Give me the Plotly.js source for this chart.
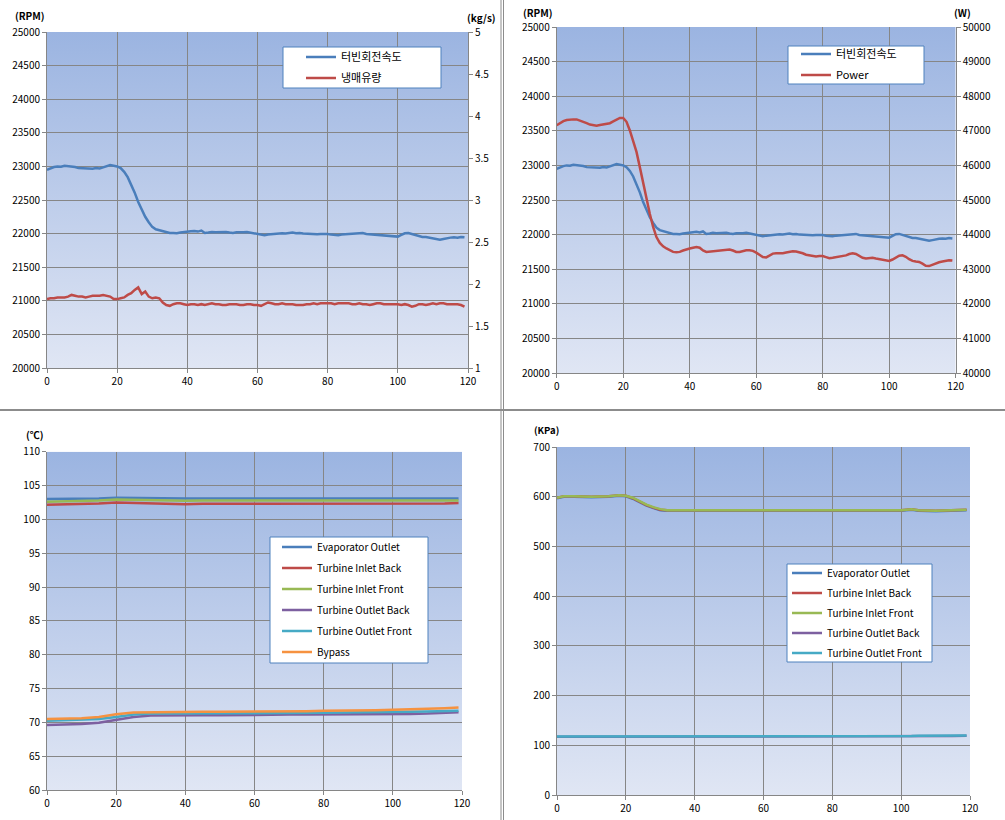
<!DOCTYPE html>
<html><head><meta charset="utf-8">
<script src="https://cdn.plot.ly/plotly-3.0.1.min.js"></script>
<style>html,body{margin:0;padding:0;background:#fff}#chart{width:1005px;height:820px}</style>
</head><body><div id="chart"></div>
<script>
// ---------------- DATA ----------------
const timeSec = [0,1,2,3,4,5,6,7,8,9,10,11,12,13,14,15,16,17,18,19,20,21,22,23,24,25,26,27,28,29,
 30,31,32,33,34,35,36,37,38,39,40,41,42,43,44,45,46,47,48,49,50,51,52,53,54,55,56,57,58,59,
 60,61,62,63,64,65,66,67,68,69,70,71,72,73,74,75,76,77,78,79,80,81,82,83,84,85,86,87,88,89,
 90,91,92,93,94,95,96,97,98,99,100,101,102,103,104,105,106,107,108,109,110,111,112,113,114,115,116,117,118,119];

const turbineRpm = [22950,22975,22990,23000,22995,23010,23005,23000,22990,22975,
 22970,22975,22970,22965,22975,22970,22985,23000,23020,23010,
 23000,22975,22920,22840,22730,22610,22470,22350,22250,22170,
 22100,22065,22050,22030,22015,22010,22010,22005,22015,22025,
 22030,22035,22040,22030,22045,22010,22015,22025,22020,22025,
 22030,22025,22015,22010,22020,22015,22020,22025,22015,22010,
 22005,21985,21975,21985,21990,22000,21995,22005,22000,22010,
 22015,22005,22010,22000,21995,21990,21985,21990,21995,22000,
 21995,21985,21980,21975,21985,21990,21985,21990,22000,22005,
 22010,21995,21990,21985,21975,21980,21970,21960,21955,21960,
 21955,21980,22005,22010,21995,21980,21965,21950,21950,21940,
 21925,21915,21910,21920,21935,21940,21945,21940,21950,21945];

const refrigerantFlow = [1.82,1.83,1.83,1.84,1.84,1.84,1.85,1.87,1.86,1.85,
 1.85,1.84,1.85,1.86,1.86,1.86,1.87,1.86,1.85,1.82,
 1.82,1.83,1.84,1.87,1.89,1.93,1.96,1.88,1.91,1.85,
 1.83,1.84,1.83,1.78,1.75,1.74,1.76,1.77,1.77,1.76,
 1.75,1.76,1.76,1.75,1.76,1.75,1.76,1.77,1.76,1.76,
 1.75,1.75,1.76,1.76,1.76,1.75,1.75,1.76,1.76,1.75,
 1.75,1.74,1.76,1.78,1.77,1.76,1.76,1.77,1.76,1.76,
 1.76,1.75,1.75,1.75,1.76,1.76,1.77,1.76,1.77,1.77,
 1.77,1.77,1.76,1.77,1.77,1.77,1.77,1.76,1.76,1.77,
 1.76,1.76,1.75,1.76,1.77,1.77,1.76,1.76,1.76,1.76,
 1.76,1.75,1.76,1.75,1.73,1.74,1.76,1.76,1.75,1.76,
 1.77,1.76,1.77,1.77,1.76,1.76,1.76,1.76,1.75,1.73];

const powerW = [47160,47220,47280,47310,47330,47330,47330,47300,47260,47220,
 47180,47160,47150,47170,47190,47200,47220,47270,47330,47370,
 47370,47260,47010,46720,46390,45950,45470,44990,44600,44220,
 43930,43760,43660,43600,43540,43500,43490,43500,43540,43580,
 43600,43620,43640,43620,43540,43500,43510,43520,43530,43550,
 43560,43560,43570,43540,43500,43500,43530,43550,43550,43530,
 43480,43420,43350,43340,43400,43450,43460,43450,43460,43480,
 43510,43520,43510,43490,43460,43420,43400,43380,43370,43380,
 43380,43350,43320,43330,43350,43360,43370,43400,43440,43460,
 43440,43390,43330,43310,43330,43330,43310,43290,43260,43240,
 43240,43280,43340,43390,43400,43360,43290,43240,43220,43210,
 43160,43100,43090,43130,43170,43200,43220,43240,43260,43250];

const tempTime = [0,5,10,15,20,25,30,35,40,45,50,55,60,65,70,75,80,85,90,95,100,105,110,115,119];
const evapOutletT  = [103.0,103.0,103.05,103.1,103.2,103.15,103.1,103.1,103.1,103.1,103.1,103.1,103.1,103.1,103.1,103.1,103.1,103.1,103.1,103.1,103.1,103.1,103.1,103.1,103.1];
const inletBackT   = [102.15,102.2,102.25,102.35,102.5,102.45,102.3,102.25,102.25,102.3,102.3,102.3,102.3,102.3,102.3,102.3,102.3,102.25,102.3,102.3,102.3,102.3,102.35,102.35,102.4];
const inletFrontT  = [102.6,102.65,102.7,102.8,102.95,102.9,102.8,102.75,102.75,102.8,102.8,102.8,102.8,102.8,102.8,102.8,102.8,102.8,102.8,102.8,102.8,102.8,102.8,102.8,102.8];
const outletBackT  = [69.6,69.65,69.75,69.95,70.35,70.8,71.0,71.05,71.05,71.05,71.05,71.1,71.1,71.15,71.15,71.15,71.15,71.2,71.2,71.2,71.2,71.25,71.3,71.4,71.5];
const outletFrontT = [70.25,70.3,70.35,70.5,70.8,71.15,71.3,71.3,71.3,71.3,71.3,71.3,71.35,71.35,71.35,71.4,71.4,71.45,71.45,71.5,71.5,71.55,71.6,71.65,71.7];
const bypassT      = [70.5,70.55,70.6,70.8,71.2,71.45,71.5,71.5,71.5,71.55,71.55,71.55,71.6,71.6,71.6,71.65,71.7,71.7,71.75,71.8,71.85,71.9,72.0,72.1,72.2];

const pressTime = [0,2,5,10,15,18,20,22,24,26,28,30,32,35,40,45,50,55,60,65,70,75,80,85,90,95,100,103,105,110,115,119];
const evapOutletP  = [597,600,600,599,600,602,601,596,589,582,577,573,572,572,572,573,573,573,572,573,573,572,572,573,573,572,572,574,572,571,572,573];
const inletBackP   = [598,601,601,600,601,603,602,597,590,583,578,574,573,573,573,574,574,574,573,574,574,573,573,574,574,573,573,575,573,572,573,574];
const inletFrontP  = [598,601,601,600,601,603,602,598,591,584,579,575,573,573,573,574,574,574,573,574,574,573,573,574,574,573,573,575,573,572,573,574];
const outletBackP  = [117,117,117,117,117,117,117,117,117,117,117,117,117,117,117,117,117,117,117.5,117.5,117.5,117.5,118,118,118,118,118,118,118.5,118.5,118.5,119];
const outletFrontP = [117.5,117.5,117.5,117.5,117.5,117.5,117.5,117.5,117.5,117.5,117.5,117,117,117,117.5,117.5,117.5,117.5,118,118,118,118,118.5,118.5,118.5,118.5,118.5,118.5,119,119,119,119.5];

const namesTop1 = ['터빈회전속도', '냉매유량'];
const namesTop2 = ['터빈회전속도', 'Power'];
const namesTemp = ['Evaporator Outlet','Turbine Inlet Back','Turbine Inlet Front','Turbine Outlet Back','Turbine Outlet Front','Bypass'];
const namesPress = ['Evaporator Outlet','Turbine Inlet Back','Turbine Inlet Front','Turbine Outlet Back','Turbine Outlet Front'];
const unitLabels = ['(RPM)','(kg/s)','(RPM)','(W)','(℃)','(KPa)'];

// ---------------- STYLE ----------------
const W = 1005, H = 820;
const px = v => v / W, py = v => 1 - v / H;
const C = {blue:'#4a7ebb', red:'#be4b48', green:'#98b954', purple:'#7d60a0', aqua:'#46aac5', orange:'#f69240'};
const gridC = '#868686';
const FONT = '"Noto Sans CJK KR", "Noto Sans", sans-serif';
const tf = {family: FONT, size: 10, color: '#000'};

function xa(l, r, anchor) {
  return {domain:[px(l), px(r)], range:[0,120], tick0:0, dtick:20, anchor:anchor,
    showgrid:true, gridcolor:gridC, gridwidth:1, showline:true, linecolor:gridC, linewidth:1,
    ticks:'outside', ticklen:4, tickcolor:gridC, zeroline:false, tickfont:tf, fixedrange:true};
}
function ya(t, b, range, dtick, anchor, side, overlay, fmt) {
  const o = {range:range, tick0:range[0], dtick:dtick, anchor:anchor, side:side,
    showline:true, linecolor:gridC, linewidth:1, ticks:'outside', ticklen:4, tickcolor:gridC,
    zeroline:false, tickfont:tf, exponentformat:'none', fixedrange:true};
  if (fmt) o.tickformat = fmt;
  if (overlay) { o.overlaying = overlay; o.showgrid = false; }
  else { o.domain = [py(b), py(t)]; o.showgrid = true; o.gridcolor = gridC; o.gridwidth = 1; }
  return o;
}

const gradSvg = '<svg xmlns="http://www.w3.org/2000/svg" width="100" height="100" preserveAspectRatio="none">' +
  '<defs><linearGradient id="g" x1="0" y1="0" x2="0" y2="1"><stop offset="0" stop-color="#9bb4e1"/>' +
  '<stop offset="1" stop-color="#e0e6f4"/></linearGradient></defs><rect width="100" height="100" fill="url(#g)"/></svg>';
const gradSrc = 'data:image/svg+xml;utf8,' + encodeURIComponent(gradSvg);
function bgImg(xr, yr) {
  return {source:gradSrc, xref:xr + ' domain', yref:yr + ' domain', x:0, y:1, sizex:1, sizey:1,
    xanchor:'left', yanchor:'top', sizing:'stretch', layer:'below'};
}
function line(x, y, xaxis, yaxis, name, color, legend, group) {
  return {type:'scatter', mode:'lines', x:x, y:y, xaxis:xaxis, yaxis:yaxis, name:name,
    line:{color:color, width:2.5}, legend:legend, legendgroup:group, hoverinfo:'skip'};
}

const traces = [
  line(timeSec, turbineRpm, 'x', 'y', namesTop1[0], C.blue, 'legend', 'a1'),
  line(timeSec, refrigerantFlow, 'x', 'y2', namesTop1[1], C.red, 'legend', 'a2'),
  line(timeSec, turbineRpm, 'x2', 'y3', namesTop2[0], C.blue, 'legend2', 'b1'),
  line(timeSec, powerW, 'x2', 'y4', namesTop2[1], C.red, 'legend2', 'b2'),
  line(tempTime, evapOutletT, 'x3', 'y5', namesTemp[0], C.blue, 'legend3', 'c1'),
  line(tempTime, inletBackT, 'x3', 'y5', namesTemp[1], C.red, 'legend3', 'c2'),
  line(tempTime, inletFrontT, 'x3', 'y5', namesTemp[2], C.green, 'legend3', 'c3'),
  line(tempTime, outletBackT, 'x3', 'y5', namesTemp[3], C.purple, 'legend3', 'c4'),
  line(tempTime, outletFrontT, 'x3', 'y5', namesTemp[4], C.aqua, 'legend3', 'c5'),
  line(tempTime, bypassT, 'x3', 'y5', namesTemp[5], C.orange, 'legend3', 'c6'),
  line(pressTime, evapOutletP, 'x4', 'y7', namesPress[0], C.blue, 'legend4', 'd1'),
  line(pressTime, inletBackP, 'x4', 'y7', namesPress[1], C.red, 'legend4', 'd2'),
  line(pressTime, inletFrontP, 'x4', 'y7', namesPress[2], C.green, 'legend4', 'd3'),
  line(pressTime, outletBackP, 'x4', 'y7', namesPress[3], C.purple, 'legend4', 'd4'),
  line(pressTime, outletFrontP, 'x4', 'y7', namesPress[4], C.aqua, 'legend4', 'd5')
];

function leg(x, y, gap, size) {
  return {x:px(x), y:py(y), xanchor:'left', yanchor:'top', bgcolor:'rgba(0,0,0,0)', borderwidth:0,
    font:{family:FONT, size:size, color:'#000'}, tracegroupgap:gap, itemwidth:30};
}
function box(l, t, r, b) {
  return {type:'rect', xref:'paper', yref:'paper', x0:px(l), x1:px(r), y0:py(b), y1:py(t),
    fillcolor:'#ffffff', line:{color:'#4f81bd', width:1}, layer:'above'};
}
function sep(x0, y0, x1, y1, w) {
  return {type:'line', xref:'paper', yref:'paper', x0:px(x0), y0:py(y0), x1:px(x1), y1:py(y1),
    line:{color:'#8c8c8c', width:w}, layer:'above'};
}
function unit(text, x, y, size) {
  return {text:text, xref:'paper', yref:'paper', x:px(x), y:py(y), xanchor:'left', yanchor:'middle',
    showarrow:false, font:{family:FONT, size:size || 10, color:'#000', weight:'bold'}};
}

const layout = {
  width:W, height:H, margin:{l:0, r:0, t:0, b:0},
  paper_bgcolor:'#ffffff', plot_bgcolor:'rgba(0,0,0,0)',
  xaxis: xa(47, 468, 'y'),
  yaxis: ya(32, 368, [20000,25000], 500, 'x', 'left', null, 'd'),
  yaxis2: ya(32, 368, [1,5], 0.5, 'x', 'right', 'y'),
  xaxis2: xa(556.7, 955.7, 'y3'),
  yaxis3: ya(27, 373, [20000,25000], 500, 'x2', 'left', null, 'd'),
  yaxis4: ya(27, 373, [40000,50000], 1000, 'x2', 'right', 'y3', 'd'),
  xaxis3: xa(47, 462, 'y5'),
  yaxis5: ya(451.7, 790, [60,110], 5, 'x3', 'left'),
  yaxis6: ya(451.7, 790, [60,110], 5, 'x3', 'right', 'y5'),
  xaxis4: xa(557, 970, 'y7'),
  yaxis7: ya(447, 795, [0,700], 100, 'x4', 'left'),
  legend: leg(301, 42.5, 2, 11),
  legend2: leg(796, 39.5, 2, 11),
  legend3: leg(277, 532.5, 2, 10),
  legend4: leg(787, 558.5, 1, 10),
  images: [bgImg('x','y'), bgImg('x2','y3'), bgImg('x3','y5'), bgImg('x4','y7')],
  shapes: [
    box(283, 47, 441, 88), box(788, 46, 924, 84), box(270, 537, 428, 663), box(787, 564, 932, 662),
    sep(0, 410, 1005, 410, 2), sep(501, 0, 501, 820, 1), sep(503.5, 0, 503.5, 820, 1)
  ],
  annotations: [
    unit(unitLabels[0], 13, 15), unit(unitLabels[1], 465, 17),
    unit(unitLabels[2], 521, 12), unit(unitLabels[3], 952, 12),
    unit(unitLabels[4], 24, 434), unit(unitLabels[5], 532, 430, 9.5)
  ]
};

Plotly.newPlot('chart', traces, layout, {displayModeBar:false, staticPlot:true});
</script>
</body></html>
